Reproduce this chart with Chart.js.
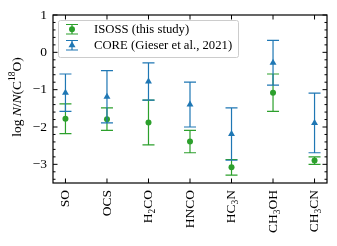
<!DOCTYPE html>
<html>
<head>
<meta charset="utf-8">
<script src="https://cdn.jsdelivr.net/npm/chart.js@4.4.0/dist/chart.umd.min.js"></script>
<style>
  html, body { margin: 0; padding: 0; background: #fff; }
</style>
</head>
<body>
<canvas id="grafico" width="337" height="246"></canvas>
<script>
// === DADOS ===
const categorias = ['SO', 'OCS', 'H_2CO', 'HNCO', 'HC_3N', 'CH_3OH', 'CH_3CN'];
const isossValores = [-1.78, -1.79, -1.88, -2.39, -3.08, -1.08, -2.90];
const isossErros = [0.40, 0.30, 0.60, 0.30, 0.21, 0.50, 0.10];
const coreValores = [-1.08, -1.19, -0.78, -1.40, -2.19, -0.28, -1.89];
const coreErros = [0.50, 0.70, 0.50, 0.60, 0.70, 0.60, 0.80];
const ticksY = [1, 0, -1, -2, -3];
const legendas = ['ISOSS (this study)', 'CORE (Gieser et al., 2021)'];

const VERDE = '#2ca02c';
const AZUL = '#1f77b4';
const FONTE = 'Liberation Serif';

// quebra "H_2CO" em pedaços normais e subscritos
function partes(texto) {
  const out = [];
  texto.split(/(_\d+)/).forEach(p => {
    if (!p) return;
    if (p.startsWith('_')) out.push([p.slice(1), 'sub']);
    else out.push([p, 'n']);
  });
  return out;
}

function fonteDe(tipo, tam) {
  if (tipo === 'i') return `italic ${tam}px "${FONTE}"`;
  if (tipo === 'sub' || tipo === 'sup') return `${tam * 0.7}px "${FONTE}"`;
  return `${tam}px "${FONTE}"`;
}

function larguraRica(ctx, segs, tam) {
  let w = 0;
  segs.forEach(([t, tipo]) => { ctx.font = fonteDe(tipo, tam); w += ctx.measureText(t).width; });
  return w;
}

// desenha texto com sub/sobrescrito a partir de x (alinhado à esquerda)
function desenhaRico(ctx, segs, x, y, tam) {
  ctx.textAlign = 'left';
  ctx.textBaseline = 'middle';
  let cx = x;
  segs.forEach(([t, tipo]) => {
    ctx.font = fonteDe(tipo, tam);
    let dy = 0;
    if (tipo === 'sub') dy = tam * 0.3;
    if (tipo === 'sup') dy = -tam * 0.35;
    ctx.fillText(t, cx, y + dy);
    cx += ctx.measureText(t).width;
  });
}

function barraErro(ctx, x, yTopo, yBase, cor) {
  ctx.save();
  ctx.strokeStyle = cor;
  ctx.lineWidth = 1.2;
  ctx.beginPath();
  ctx.moveTo(x, yTopo); ctx.lineTo(x, yBase);
  ctx.moveTo(x - 6, yTopo); ctx.lineTo(x + 6, yTopo);
  ctx.moveTo(x - 6, yBase); ctx.lineTo(x + 6, yBase);
  ctx.stroke();
  ctx.restore();
}

const pluginDesenho = {
  id: 'desenho',
  beforeDatasetDraw(chart, args) {
    const ctx = chart.ctx;
    const sx = chart.scales.x, sy = chart.scales.y;
    const vals = args.index === 0 ? isossValores : coreValores;
    const errs = args.index === 0 ? isossErros : coreErros;
    const cor = args.index === 0 ? VERDE : AZUL;
    ctx.save();
    ctx.beginPath();
    ctx.rect(chart.chartArea.left, chart.chartArea.top, chart.chartArea.width, chart.chartArea.height);
    ctx.clip();
    vals.forEach((v, i) => {
      barraErro(ctx, sx.getPixelForValue(i), sy.getPixelForValue(v + errs[i]), sy.getPixelForValue(v - errs[i]), cor);
    });
    ctx.restore();
  },
  afterDraw(chart) {
    const ctx = chart.ctx;
    const a = chart.chartArea;
    const sx = chart.scales.x, sy = chart.scales.y;

    // moldura e ticks internos
    ctx.save();
    ctx.strokeStyle = '#000';
    ctx.lineWidth = 1;
    ctx.beginPath();
    for (let k = -17; k <= 5; k++) {
      const y = sy.getPixelForValue(k / 5);
      const len = (k % 5 === 0) ? 4.5 : 2.5;
      ctx.moveTo(a.left, y); ctx.lineTo(a.left + len, y);
      ctx.moveTo(a.right, y); ctx.lineTo(a.right - len, y);
    }
    categorias.forEach((c, i) => {
      const x = sx.getPixelForValue(i);
      ctx.moveTo(x, a.bottom); ctx.lineTo(x, a.bottom - 4.5);
      ctx.moveTo(x, a.top); ctx.lineTo(x, a.top + 4.5);
    });
    ctx.stroke();
    ctx.lineWidth = 1.2;
    ctx.strokeRect(a.left, a.top, a.width, a.height);
    ctx.restore();

    // rótulos do eixo x, rotacionados
    ctx.save();
    ctx.fillStyle = '#000';
    categorias.forEach((c, i) => {
      const segs = partes(c);
      const x = sx.getPixelForValue(i);
      ctx.save();
      ctx.translate(x, a.bottom + 7);
      ctx.rotate(-Math.PI / 2);
      const w = larguraRica(ctx, segs, 13.5);
      desenhaRico(ctx, segs, -w, 0, 13.5);
      ctx.restore();
    });
    ctx.restore();

    // título do eixo y
    ctx.save();
    ctx.fillStyle = '#000';
    const tituloY = [['log ', 'n'], ['N', 'i'], ['/', 'n'], ['N', 'i'], ['(C', 'n'], ['18', 'sup'], ['O)', 'n']];
    ctx.translate(17, (a.top + a.bottom) / 2 - 2);
    ctx.rotate(-Math.PI / 2);
    const wt = larguraRica(ctx, tituloY, 13.5);
    desenhaRico(ctx, tituloY, -wt / 2, 0, 13.5);
    ctx.restore();

    // legenda
    ctx.save();
    const lx = 58, ly = 20, lw = 180, lh = 37;
    ctx.fillStyle = 'rgba(255,255,255,0.85)';
    ctx.strokeStyle = '#cccccc';
    ctx.lineWidth = 1;
    ctx.beginPath();
    ctx.roundRect(lx + 0.5, ly + 0.5, lw, lh, 2);
    ctx.fill();
    ctx.stroke();

    const mx = 72;
    barraErro(ctx, mx, 24.5, 34, VERDE);
    ctx.fillStyle = VERDE;
    ctx.beginPath(); ctx.arc(mx, 29.3, 3, 0, Math.PI * 2); ctx.fill();

    barraErro(ctx, mx, 40.5, 50, AZUL);
    ctx.fillStyle = AZUL;
    ctx.beginPath();
    ctx.moveTo(mx, 45.3 - 4);
    ctx.lineTo(mx + 3.5, 45.3 + 2);
    ctx.lineTo(mx - 3.5, 45.3 + 2);
    ctx.closePath();
    ctx.fill();

    ctx.fillStyle = '#000';
    ctx.font = `12.7px "${FONTE}"`;
    ctx.textAlign = 'left';
    ctx.textBaseline = 'middle';
    ctx.fillText(legendas[0], 94, 29.5);
    ctx.fillText(legendas[1], 94, 45.5);
    ctx.restore();
  }
};

new Chart(document.getElementById('grafico'), {
  type: 'scatter',
  data: {
    datasets: [
      {
        label: legendas[0],
        data: isossValores.map((v, i) => ({ x: i, y: v })),
        pointStyle: 'circle',
        pointRadius: 3,
        backgroundColor: VERDE,
        borderColor: VERDE,
        borderWidth: 0,
        order: 2
      },
      {
        label: legendas[1],
        data: coreValores.map((v, i) => ({ x: i, y: v })),
        pointStyle: 'triangle',
        pointRadius: 4,
        backgroundColor: AZUL,
        borderColor: AZUL,
        borderWidth: 0,
        order: 1
      }
    ]
  },
  options: {
    responsive: false,
    animation: false,
    layout: { padding: { top: 15, right: 10, left: 0, bottom: 0 } },
    plugins: {
      legend: { display: false },
      tooltip: { enabled: false }
    },
    scales: {
      x: {
        type: 'linear',
        min: -0.3,
        max: 6.3,
        grid: { display: false, drawTicks: false },
        border: { display: false },
        ticks: { display: false },
        afterFit: s => { s.height = 63; }
      },
      y: {
        type: 'linear',
        min: -3.5,
        max: 1,
        grid: { display: false, drawTicks: false },
        border: { display: false },
        afterFit: s => { s.width = 53; },
        afterBuildTicks: s => { s.ticks = ticksY.map(v => ({ value: v })); },
        ticks: {
          padding: 6,
          color: '#000',
          font: { family: FONTE, size: 13.5 },
          callback: v => (v < 0 ? '\u2212' + Math.abs(v) : String(v))
        }
      }
    }
  },
  plugins: [pluginDesenho]
});
</script>
</body>
</html>
